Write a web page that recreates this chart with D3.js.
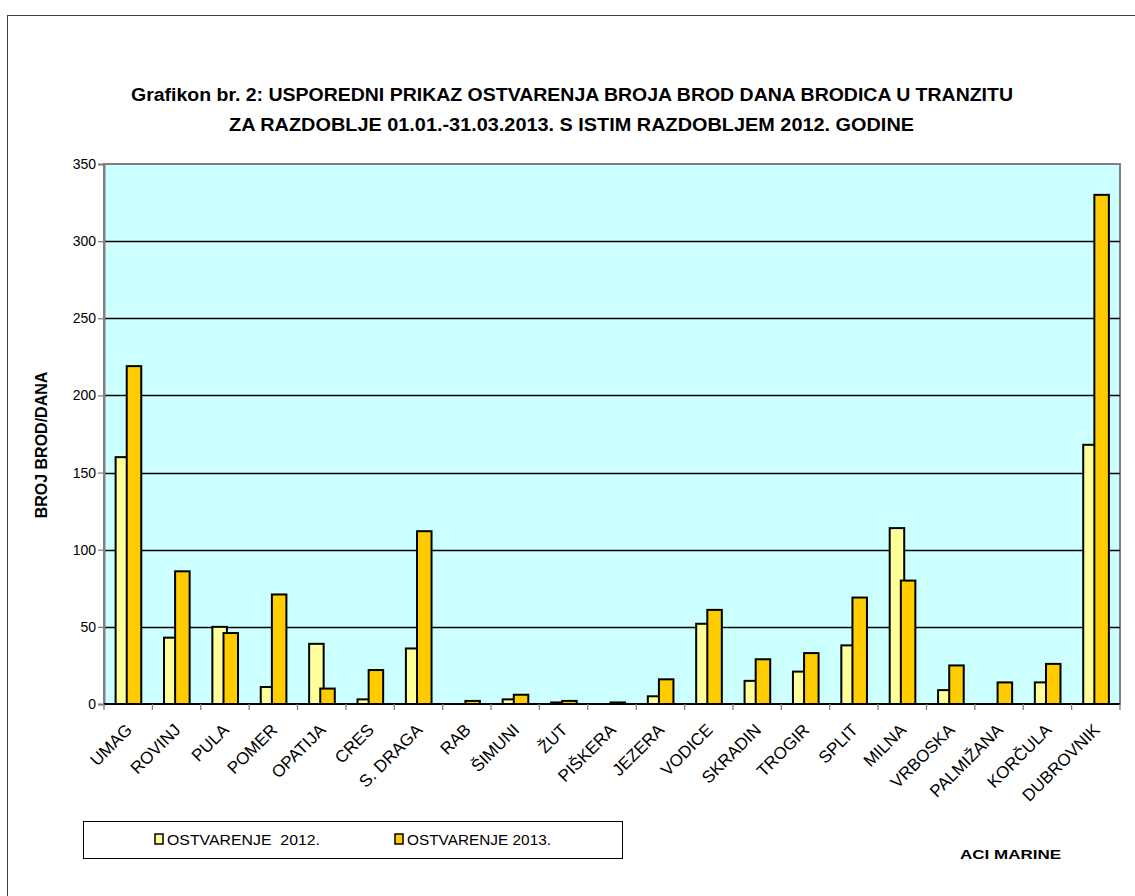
<!DOCTYPE html>
<html><head><meta charset="utf-8">
<script src="https://cdn.jsdelivr.net/npm/d3@7"></script>
<style>html,body{margin:0;padding:0;background:#fff;}svg{display:block;}</style>
</head><body>
<script>
const categories = ["UMAG","ROVINJ","PULA","POMER","OPATIJA","CRES","S. DRAGA","RAB","ŠIMUNI","ŽUT","PIŠKERA","JEZERA","VODICE","SKRADIN","TROGIR","SPLIT","MILNA","VRBOSKA","PALMIŽANA","KORČULA","DUBROVNIK"];
const values2012 = [160,43,50,11,39,3,36,0,3,1,0,5,52,15,21,38,114,9,0,14,168];
const values2013 = [219,86,46,71,10,22,112,2,6,2,1,16,61,29,33,69,80,25,14,26,330];
const yTicks = [0,50,100,150,200,250,300,350];
const seriesNames = ["OSTVARENJE  2012.","OSTVARENJE 2013."];
const seriesColors = ["#FFFF99","#FFCC00"];

const W = 1135, H = 896;
const svg = d3.select("body").append("svg").attr("width", W).attr("height", H);

// outer frame
svg.append("rect").attr("x",7.5).attr("y",15.5).attr("width",W+20).attr("height",H+20)
  .attr("fill","#fff").attr("stroke","#404040").attr("stroke-width",1);

const L = 104, R = 1120, T = 164, B = 704;
const x = d3.scaleBand().domain(categories).range([L,R]).paddingInner(0).paddingOuter(0);
const y = d3.scaleLinear().domain([0,350]).range([B,T]);

// plot background
svg.append("rect").attr("x",L).attr("y",T).attr("width",R-L).attr("height",B-T)
  .attr("fill","#CCFFFF").attr("stroke","#808080").attr("stroke-width",2);

// gridlines
svg.append("g").selectAll("line").data(yTicks.filter(d=>d>0 && d<350)).join("line")
  .attr("x1",L).attr("x2",R).attr("y1",d=>Math.round(y(d))+0.5).attr("y2",d=>Math.round(y(d))+0.5)
  .attr("stroke","#000").attr("stroke-width",1.3);

// bars
const bw = x.bandwidth();
const series = [values2012, values2013];
const offs = [0.24, 0.47];
series.forEach((vals, si) => {
  svg.append("g").selectAll("rect").data(categories).join("rect")
    .attr("x", (c,i)=> x(c) + bw*offs[si])
    .attr("width", bw*0.30)
    .attr("y", (c,i)=> y(vals[i]))
    .attr("height", (c,i)=> B - y(vals[i]))
    .attr("fill", seriesColors[si])
    .attr("stroke","#000").attr("stroke-width",2);
});

// y axis
const yAxis = d3.axisLeft(y).tickValues(yTicks).tickSize(6).tickPadding(2);
const gy = svg.append("g").attr("transform",`translate(${L},0)`).call(yAxis);
gy.select(".domain").attr("stroke","#808080").attr("stroke-width",2);
gy.selectAll(".tick line").attr("stroke","#808080").attr("stroke-width",1.3);
gy.selectAll("text").attr("font-family","'Liberation Sans', Arial, sans-serif").attr("font-size",14).attr("fill","#000");

// x axis
const gx = svg.append("g").attr("transform",`translate(0,${B})`);
gx.append("line").attr("x1",L).attr("x2",R).attr("y1",0).attr("y2",0).attr("stroke","#000").attr("stroke-width",2);
const boundaries = categories.map(c=>x(c)).concat([R]);
gx.selectAll("line.tk").data(boundaries).join("line").attr("class","tk")
  .attr("x1",d=>d).attr("x2",d=>d).attr("y1",0).attr("y2",6).attr("stroke","#808080").attr("stroke-width",1.3);
gx.selectAll("text").data(categories).join("text")
  .attr("transform", c=>`translate(${x(c)+bw/2+5},${27}) rotate(-45)`)
  .attr("text-anchor","end")
  .attr("font-family","'Liberation Sans', Arial, sans-serif").attr("font-size",17).attr("fill","#000")
  .text(c=>c);

// y axis title
svg.append("text").attr("transform","translate(47,445) rotate(-90)")
  .attr("text-anchor","middle").attr("font-family","'Liberation Sans', Arial, sans-serif")
  .attr("font-size",16).attr("font-weight","bold").text("BROJ BROD/DANA");

// title
const titleFont = "'Liberation Sans Narrow', 'Arial Narrow', 'Liberation Sans', sans-serif";
svg.append("text").attr("x",131).attr("y",101).attr("font-family",titleFont).attr("font-size",18).attr("font-weight","bold")
  .attr("textLength",882).attr("lengthAdjust","spacingAndGlyphs")
  .text("Grafikon br. 2: USPOREDNI PRIKAZ OSTVARENJA BROJA BROD DANA BRODICA U TRANZITU");
svg.append("text").attr("x",229).attr("y",131).attr("font-family",titleFont).attr("font-size",18).attr("font-weight","bold")
  .attr("textLength",685).attr("lengthAdjust","spacingAndGlyphs")
  .text("ZA RAZDOBLJE 01.01.-31.03.2013. S ISTIM RAZDOBLJEM 2012. GODINE");

// legend
svg.append("rect").attr("x",83.5).attr("y",821.5).attr("width",539).attr("height",37)
  .attr("fill","#fff").attr("stroke","#000").attr("stroke-width",1);
const legX = [155, 395];
seriesNames.forEach((n,i)=>{
  svg.append("rect").attr("x",legX[i]).attr("y",834).attr("width",8).attr("height",10)
    .attr("fill",seriesColors[i]).attr("stroke","#000").attr("stroke-width",1.5);
  svg.append("text").attr("x",legX[i]+12).attr("y",845).attr("font-family",titleFont).attr("font-size",14)
    .attr("textLength", i===0?153:144).attr("lengthAdjust","spacingAndGlyphs")
    .attr("xml:space","preserve").style("white-space","pre").text(n);
});

svg.append("text").attr("x",960).attr("y",859).attr("font-family","'Liberation Sans', Arial, sans-serif")
  .attr("font-size",13).attr("font-weight","bold").attr("textLength",101).attr("lengthAdjust","spacingAndGlyphs").text("ACI MARINE");
</script>
</body></html>
